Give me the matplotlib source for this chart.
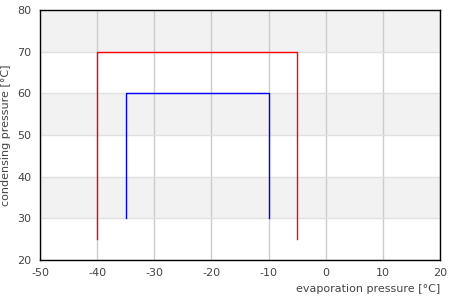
import matplotlib
matplotlib.use("Agg")
import matplotlib.pyplot as plt

plt.rcParams["axes.unicode_minus"] = False

# outer cycle (red) and inner cycle (blue): evaporation / condensing temps
outer_x = [-40, -40, -5, -5]
outer_y = [25, 70, 70, 25]
inner_x = [-35, -35, -10, -10]
inner_y = [30, 60, 60, 30]

x_ticks = [-50, -40, -30, -20, -10, 0, 10, 20]
y_ticks = [20, 30, 40, 50, 60, 70, 80]
band_ranges = [(30, 40), (50, 60), (70, 80)]

fig = plt.figure(figsize=(4.5, 3), dpi=100)
ax = fig.add_axes([40 / 450, 40 / 300, 400 / 450, 250 / 300])

for lo, hi in band_ranges:
    ax.axhspan(lo, hi, color="#f2f2f2", zorder=0, lw=0)

for x in x_ticks:
    ax.axvline(x, color="#cccccc", lw=1, zorder=1)
for y in y_ticks:
    ax.axhline(y, color="#e0e0e0", lw=1, zorder=1)

ax.plot(outer_x, outer_y, color="red", lw=1, zorder=3)
ax.plot(inner_x, inner_y, color="blue", lw=1, zorder=3)

ax.set_xlim(-50, 20)
ax.set_ylim(20, 80)
ax.set_xticks(x_ticks)
ax.set_yticks(y_ticks)
ax.tick_params(length=0, labelsize=8, labelcolor="#444444", pad=6)
for s in ax.spines.values():
    s.set_color("black")
    s.set_linewidth(1)
    s.set_zorder(4)

ax.set_xlabel("evaporation pressure [°C]", fontsize=8, color="#444444",
              loc="right", labelpad=4)
ax.set_ylabel("condensing pressure [°C]", fontsize=8, color="#444444",
              labelpad=5)

fig.savefig("out.png", dpi=100)
